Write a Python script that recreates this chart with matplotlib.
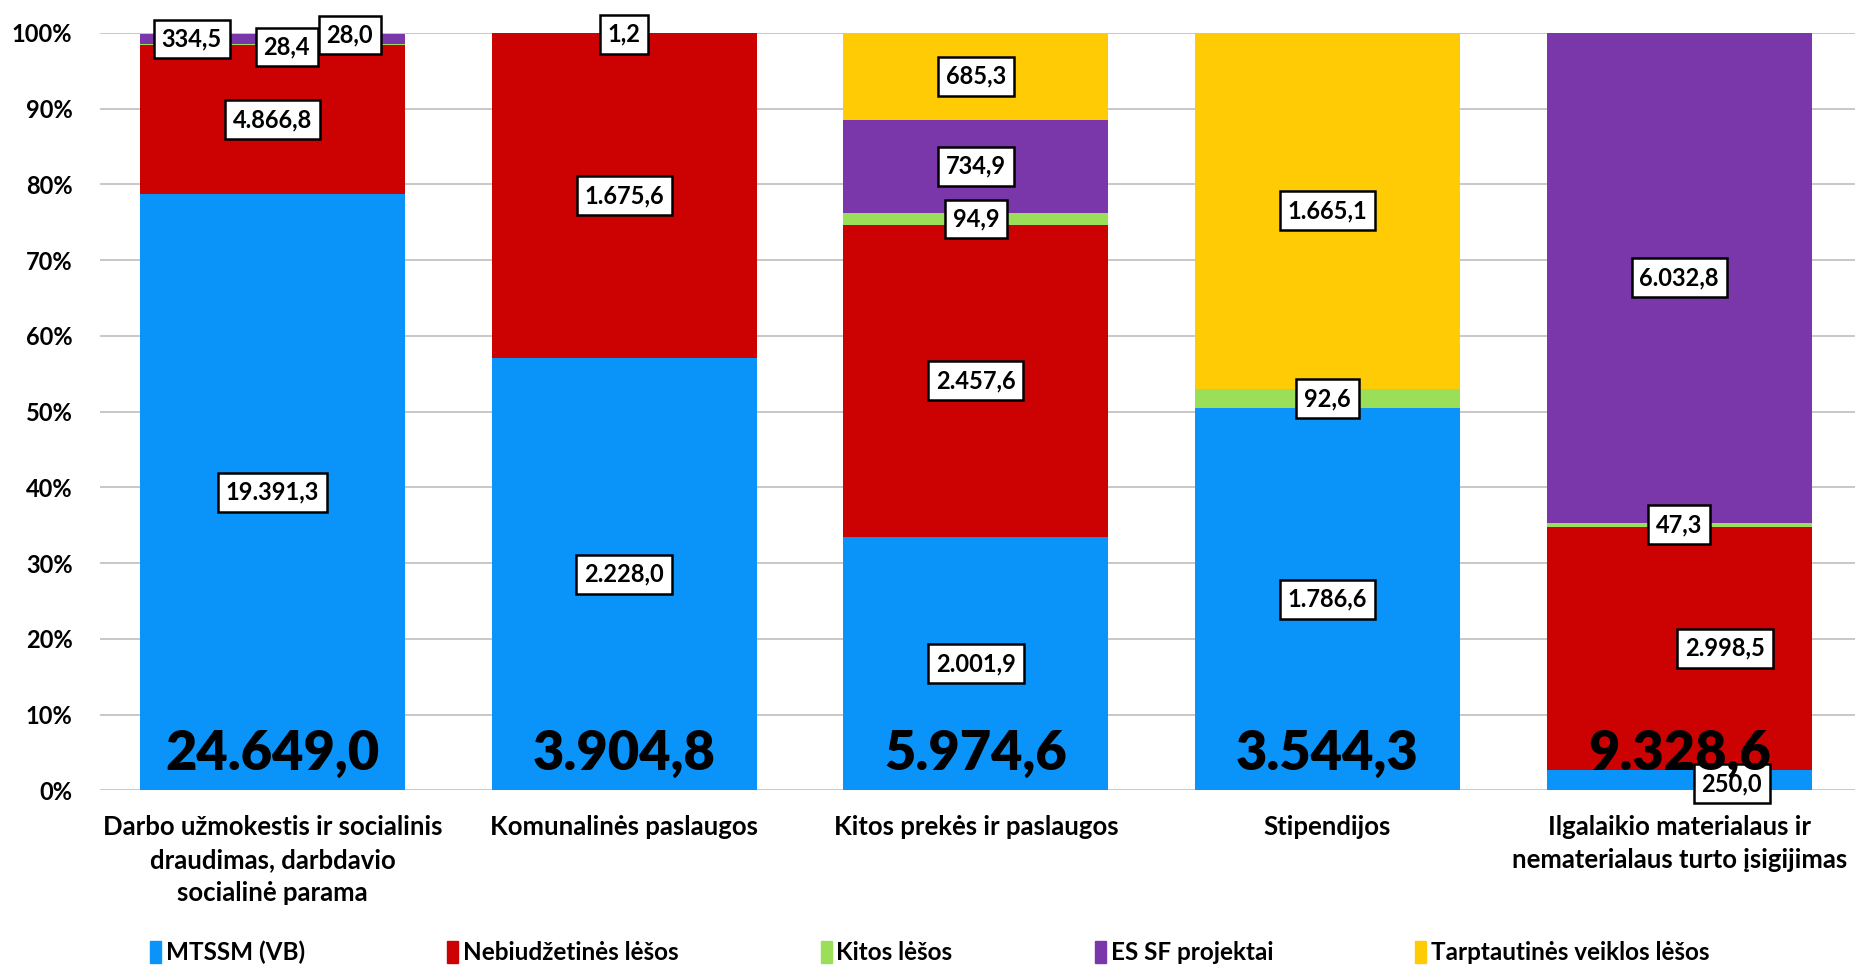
import numpy as np
import matplotlib
matplotlib.use('Agg')
import matplotlib.pyplot as plt
from matplotlib.patches import Patch

plt.rcParams['font.family'] = ['Lato', 'DejaVu Sans']
plt.rcParams['font.weight'] = 'bold'

categories = ['Darbo užmokestis ir socialinis\ndraudimas, darbdavio\nsocialinė parama',
              'Komunalinės paslaugos',
              'Kitos prekės ir paslaugos',
              'Stipendijos',
              'Ilgalaikio materialaus ir\nnematerialaus turto įsigijimas']
series_names = ['MTSSM (VB)', 'Nebiudžetinės lėšos', 'Kitos lėšos', 'ES SF projektai',
                'Tarptautinės veiklos lėšos']
mtssm = [19391.3, 2228.0, 2001.9, 1786.6, 250.0]
nebiudz = [4866.8, 1675.6, 2457.6, 0.0, 2998.5]
kitos = [28.4, 0.0, 94.9, 92.6, 47.3]
es_sf = [334.5, 0.0, 734.9, 0.0, 6032.8]
tarpt = [28.0, 1.2, 685.3, 1665.1, 0.0]
totals = ['24.649,0', '3.904,8', '5.974,6', '3.544,3', '9.328,6']
colors = ['#0A94F9', '#CC0202', '#9BDE58', '#7A37A9', '#FFCB05']

# labels moved by hand in the original (bar, series) -> (dx, y)
label_moves = {(0, 3): (-0.23, 0.992), (0, 2): (0.04, 0.981), (0, 4): (0.22, 0.997),
               (1, 4): (0.0, 0.998), (4, 0): (0.15, 0.009), (4, 1): (0.13, None)}


def fmt(v):
    s = f'{v:,.1f}'
    return s.replace(',', ' ').replace('.', ',').replace(' ', '.')


data = np.array([mtssm, nebiudz, kitos, es_sf, tarpt])
share = data / data.sum(axis=0)
x = np.arange(len(categories))

fig = plt.figure(figsize=(18.55, 9.65), dpi=100)
ax = fig.add_axes([0.054, 0.181, 0.946, 0.785])

bottom = np.zeros(len(categories))
for i, name in enumerate(series_names):
    ax.bar(x, share[i], 0.754, bottom=bottom, color=colors[i], label=name, zorder=2)
    for j in range(len(categories)):
        if data[i, j] <= 0:
            continue
        dx, yy = label_moves.get((j, i), (0.0, None))
        if yy is None:
            yy = bottom[j] + share[i, j] / 2
        ax.text(x[j] + dx, yy, fmt(data[i, j]), ha='center', va='center', fontsize=17,
                fontweight='bold', zorder=4,
                bbox=dict(boxstyle='square,pad=0.33', fc='white', ec='black', lw=1.8))
    bottom += share[i]

for j in range(len(categories)):
    ax.text(x[j], 0.048, totals[j], ha='center', va='center', fontsize=39,
            fontweight='heavy', zorder=5)

ax.set_xlim(-0.49, 4.5)
ax.set_ylim(0, 1)
ax.set_yticks(np.arange(0, 1.01, 0.1))
ax.set_yticklabels([f'{int(round(t * 100))}%' for t in np.arange(0, 1.01, 0.1)],
                   fontsize=17, fontweight='bold')
ax.set_xticks(x)
ax.set_xticklabels(categories, fontsize=18.5, fontweight='bold', linespacing=1.45)
ax.tick_params(length=0, pad=18)
ax.tick_params(axis='y', pad=20)
ax.grid(axis='y', color='#BFBFBF', lw=1.2, zorder=0)
for s in ax.spines.values():
    s.set_visible(False)

handles = [Patch(color=c) for c in colors]
fig.legend(handles, series_names, loc='lower left', bbox_to_anchor=(0.069, -0.022), ncol=5,
           frameon=False, handlelength=0.45, handleheight=1.0,
           handletextpad=0.2, columnspacing=5.85, prop={'weight': 'bold', 'size': 17.5})

plt.savefig('out.png', dpi=100)
